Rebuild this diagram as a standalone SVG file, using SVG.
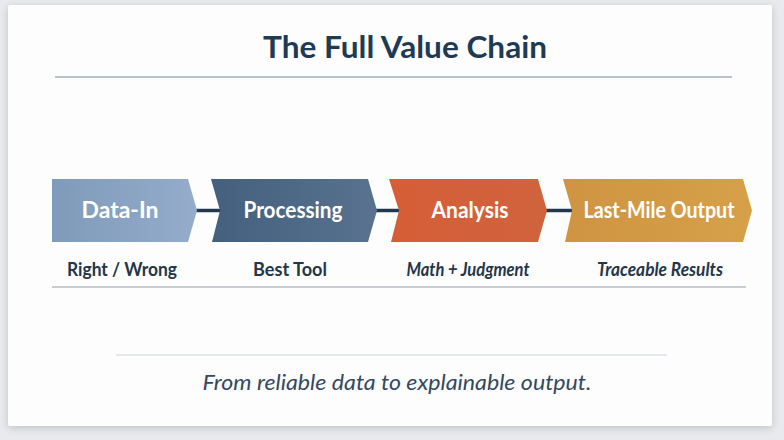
<svg xmlns="http://www.w3.org/2000/svg" width="784" height="440" viewBox="0 0 784 440">
  <defs>
    <linearGradient id="gData" x1="0" y1="0" x2="1" y2="0">
      <stop offset="0" stop-color="#7f9aba"/>
      <stop offset="1" stop-color="#95accb"/>
    </linearGradient>
    <linearGradient id="gProc" x1="0" y1="0" x2="1" y2="0">
      <stop offset="0" stop-color="#44607e"/>
      <stop offset="1" stop-color="#58728f"/>
    </linearGradient>
    <linearGradient id="gAna" x1="0" y1="0" x2="1" y2="0">
      <stop offset="0" stop-color="#d65e36"/>
      <stop offset="1" stop-color="#d0633e"/>
    </linearGradient>
    <linearGradient id="gOut" x1="0" y1="0" x2="1" y2="0">
      <stop offset="0" stop-color="#cf9442"/>
      <stop offset="1" stop-color="#d6a049"/>
    </linearGradient>
    <filter id="shadow" x="-5%" y="-5%" width="110%" height="110%">
      <feGaussianBlur in="SourceAlpha" stdDeviation="4"/>
      <feOffset dx="0" dy="2"/>
      <feComponentTransfer><feFuncA type="linear" slope="0.18"/></feComponentTransfer>
      <feMerge><feMergeNode/><feMergeNode in="SourceGraphic"/></feMerge>
    </filter>
  </defs>
  <style>
    .step { font-family: Lato, "Open Sans", sans-serif; font-weight: 700; font-size: 22px; fill: #ffffff; text-anchor: middle; }
    .lbl { font-family: Lato, "Open Sans", sans-serif; font-weight: 700; font-size: 18px; fill: #23364a; text-anchor: middle; }
    .it { font-style: italic; }
    .conn { stroke: #22384f; stroke-width: 3.5; fill: none; }
  </style>
  <rect x="0" y="0" width="784" height="440" fill="#e8eaed"/>
  <rect x="8" y="5" width="764" height="421" rx="2" fill="#fdfdfd" filter="url(#shadow)"/>

  <g id="title">
    <text x="405" y="58" font-family="Lato, 'Open Sans', sans-serif" font-weight="700" font-size="31" fill="#1f3a53" text-anchor="middle" textLength="284" lengthAdjust="spacingAndGlyphs">The Full Value Chain</text>
    <line x1="55" y1="77" x2="732" y2="77" stroke="#b9c3cd" stroke-width="2"/>
  </g>

  <g id="connectors">
    <line class="conn" x1="196" y1="210.5" x2="221" y2="210.5"/>
    <line class="conn" x1="376" y1="210.5" x2="399" y2="210.5"/>
    <line class="conn" x1="546" y1="210.5" x2="573" y2="210.5"/>
  </g>

  <g id="data-in">
    <path d="M52,179 H188 L197,210.5 L188,242 H52 Z" fill="url(#gData)"/>
    <text class="step" x="120" y="218" textLength="77" lengthAdjust="spacingAndGlyphs">Data-In</text>
    <text class="lbl" x="122" y="276" textLength="110" lengthAdjust="spacingAndGlyphs">Right / Wrong</text>
  </g>
  <g id="processing">
    <path d="M211,179 H368 L377,210.5 L368,242 H212 L220,210.5 Z" fill="url(#gProc)"/>
    <text class="step" x="293" y="218" textLength="99" lengthAdjust="spacingAndGlyphs">Processing</text>
    <text class="lbl" x="290" y="276" textLength="74" lengthAdjust="spacingAndGlyphs">Best Tool</text>
  </g>
  <g id="analysis">
    <path d="M389,179 H538 L547,210.5 L538,242 H391 L399,210.5 Z" fill="url(#gAna)"/>
    <text class="step" x="470" y="218" textLength="77" lengthAdjust="spacingAndGlyphs">Analysis</text>
    <text class="lbl it" x="468" y="276" textLength="123" lengthAdjust="spacingAndGlyphs">Math + Judgment</text>
  </g>
  <g id="last-mile-output">
    <path d="M563,179 H743 L752,210.5 L743,242 H565 L572,210.5 Z" fill="url(#gOut)"/>
    <text class="step" x="659" y="218" textLength="151" lengthAdjust="spacingAndGlyphs">Last-Mile Output</text>
    <text class="lbl it" x="660" y="276" textLength="126" lengthAdjust="spacingAndGlyphs">Traceable Results</text>
  </g>

  <line x1="52" y1="287" x2="746" y2="287" stroke="#c6cdd5" stroke-width="2"/>
  <line x1="116" y1="355" x2="667" y2="355" stroke="#dde2e7" stroke-width="1.5"/>
  <text x="397" y="390" font-family="Lato, 'Open Sans', sans-serif" font-style="italic" font-size="21" fill="#34495e" text-anchor="middle" textLength="389" lengthAdjust="spacingAndGlyphs">From reliable data to explainable output.</text>
</svg>
